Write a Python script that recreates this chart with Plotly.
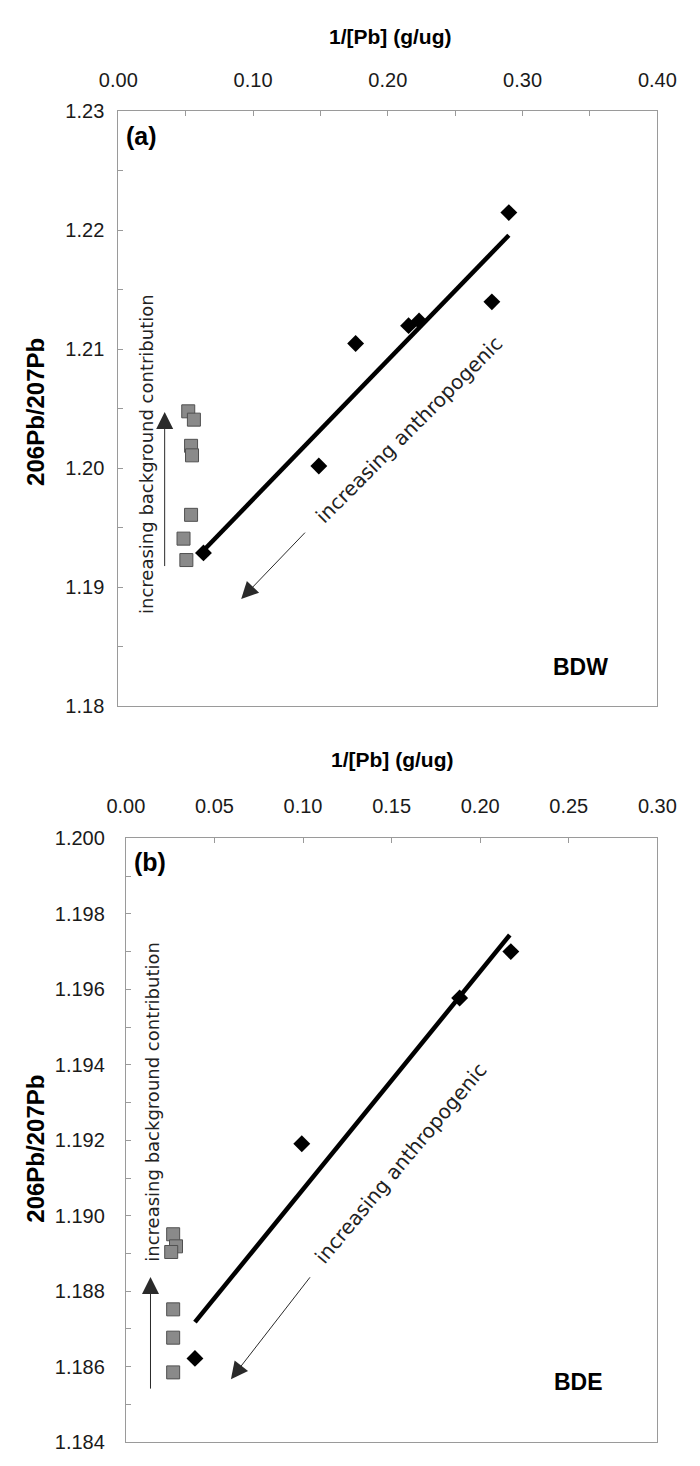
import plotly.graph_objects as go

# ---- Panel (a) BDW ----
bdw_x = [0.0632, 0.1488, 0.1761, 0.2154, 0.2232, 0.2772, 0.2898]
bdw_y = [1.1929, 1.2002, 1.2105, 1.2120, 1.2124, 1.2140, 1.2215]
bdw_bg_x = [0.0519, 0.0561, 0.0540, 0.0547, 0.0540, 0.0484, 0.0505]
bdw_bg_y = [1.2048, 1.2041, 1.2019, 1.2011, 1.1961, 1.1941, 1.1923]
bdw_fit_x = [0.0632, 0.2898]
bdw_fit_y = [1.1931, 1.2196]

# ---- Panel (b) BDE ----
bde_x = [0.0390, 0.0993, 0.1884, 0.2173]
bde_y = [1.18622, 1.19191, 1.19577, 1.19700]
bde_bg_x = [0.0267, 0.0283, 0.0256, 0.0267, 0.0267, 0.0267]
bde_bg_y = [1.18951, 1.18919, 1.18904, 1.18752, 1.18677, 1.18585]
bde_fit_x = [0.0390, 0.2167]
bde_fit_y = [1.18718, 1.19744]

W, H = 700, 1466
def px(xp): return xp / W
def py(yp): return 1 - yp / H

fig = go.Figure()

sq = dict(symbol="square", size=13, color="#8a8a8a", line=dict(color="#505050", width=1))
dm = dict(symbol="diamond", size=13, color="black")

fig.add_trace(go.Scatter(x=bdw_fit_x, y=bdw_fit_y, mode="lines", line=dict(color="black", width=4.5),
                         xaxis="x", yaxis="y", showlegend=False))
fig.add_trace(go.Scatter(x=bdw_x, y=bdw_y, mode="markers", marker=dm, xaxis="x", yaxis="y", showlegend=False))
fig.add_trace(go.Scatter(x=bdw_bg_x, y=bdw_bg_y, mode="markers", marker=sq, xaxis="x", yaxis="y", showlegend=False))

fig.add_trace(go.Scatter(x=bde_fit_x, y=bde_fit_y, mode="lines", line=dict(color="black", width=4.5),
                         xaxis="x2", yaxis="y2", showlegend=False))
fig.add_trace(go.Scatter(x=bde_x, y=bde_y, mode="markers", marker=dm, xaxis="x2", yaxis="y2", showlegend=False))
fig.add_trace(go.Scatter(x=bde_bg_x, y=bde_bg_y, mode="markers", marker=sq, xaxis="x2", yaxis="y2", showlegend=False))

tickfont = dict(family="Liberation Sans, Arial", size=20, color="#1a1a1a")
axline = dict(showline=True, linecolor="#9a9a9a", linewidth=1, mirror=True, showgrid=False,
              zeroline=False, ticks="inside", ticklen=5, tickcolor="#9a9a9a", tickfont=tickfont)

fig.update_layout(
    width=W, height=H, margin=dict(l=0, r=0, t=0, b=0),
    paper_bgcolor="white", plot_bgcolor="white",
    xaxis=dict(domain=[px(105), px(675)], range=[0, 0.40], side="top", anchor="y",
               tickvals=[0, 0.1, 0.2, 0.3, 0.4], tickformat=".2f",
               minor=dict(dtick=0.05, ticks="inside", ticklen=5, tickcolor="#9a9a9a"),
               ticklabelstandoff=15, **axline),
    yaxis=dict(domain=[py(706), py(102)], range=[1.18, 1.23], anchor="x",
               dtick=0.01, tickformat=".2f",
               minor=dict(dtick=0.005, ticks="inside", ticklen=5, tickcolor="#9a9a9a"),
               ticklabelstandoff=9, **axline),
    xaxis2=dict(domain=[px(113), px(675)], range=[0, 0.30], side="top", anchor="y2",
                dtick=0.05, tickformat=".2f", ticklabelstandoff=16, **axline),
    yaxis2=dict(domain=[py(1453), py(840)], range=[1.184, 1.200], anchor="x2",
                dtick=0.002, tickformat=".3f",
                minor=dict(dtick=0.001, ticks="inside", ticklen=5, tickcolor="#9a9a9a"),
                ticklabelstandoff=16, **axline),
)

bold = dict(family="Liberation Sans, Arial", size=21, color="black")
ybold = dict(family="Liberation Sans, Arial", size=24, color="black")
ann = []
# axis titles
ann.append(dict(text="<b>1/[Pb] (g/ug)</b>", x=px(392), y=py(26), xref="paper", yref="paper",
                showarrow=False, font=bold, xanchor="center", yanchor="middle"))
ann.append(dict(text="<b>1/[Pb] (g/ug)</b>", x=px(394), y=py(760), xref="paper", yref="paper",
                showarrow=False, font=bold, xanchor="center", yanchor="middle"))
ann.append(dict(text="<b>206Pb/207Pb</b>", x=px(18), y=py(407), xref="paper", yref="paper",
                showarrow=False, font=ybold, textangle=-90, xanchor="center", yanchor="middle"))
ann.append(dict(text="<b>206Pb/207Pb</b>", x=px(18), y=py(1155), xref="paper", yref="paper",
                showarrow=False, font=ybold, textangle=-90, xanchor="center", yanchor="middle"))
# panel labels
plab = dict(family="Liberation Sans, Arial", size=25, color="black")
ann.append(dict(text="<b>(a)</b>", x=px(130), y=py(127), xref="paper", yref="paper",
                showarrow=False, font=plab, xanchor="center", yanchor="middle"))
ann.append(dict(text="<b>(b)</b>", x=px(138), y=py(864), xref="paper", yref="paper",
                showarrow=False, font=plab, xanchor="center", yanchor="middle"))
site = dict(family="Liberation Sans, Arial", size=23, color="black")
ann.append(dict(text="<b>BDW</b>", x=px(594), y=py(666), xref="paper", yref="paper",
                showarrow=False, font=site, xanchor="center", yanchor="middle"))
ann.append(dict(text="<b>BDE</b>", x=px(592), y=py(1392), xref="paper", yref="paper",
                showarrow=False, font=site, xanchor="center", yanchor="middle"))

# annotation texts
tfont_bg = dict(family="DejaVu Sans", size=18, color="#222")
tfont_an = dict(family="DejaVu Sans", size=20, color="#222")
ann.append(dict(text="increasing background contribution", x=0.0204, y=1.2012, xref="x", yref="y",
                showarrow=False, font=tfont_bg, textangle=-90))
ann.append(dict(text="increasing anthropogenic", x=0.2154, y=1.20326, xref="x", yref="y",
                showarrow=False, font=tfont_an, textangle=-45))
ann.append(dict(text="increasing background contribution", x=0.0149, y=1.19303, xref="x2", yref="y2",
                showarrow=False, font=tfont_bg, textangle=-90))
ann.append(dict(text="increasing anthropogenic", x=0.1553, y=1.19139, xref="x2", yref="y2",
                showarrow=False, font=tfont_an, textangle=-50))

# arrows
arr = dict(showarrow=True, arrowhead=2, arrowsize=3.4, arrowwidth=1, arrowcolor="#2a2a2a", text="")
ann.append(dict(x=0.0344, y=1.20475, ax=0.0344, ay=1.19167, xref="x", yref="y", axref="x", ayref="y", **arr))
ann.append(dict(x=0.0912, y=1.18902, ax=0.1396, ay=1.19473, xref="x", yref="y", axref="x", ayref="y", **arr))
ann.append(dict(x=0.0139, y=1.18838, ax=0.0139, ay=1.18538, xref="x2", yref="y2", axref="x2", ayref="y2", **arr))
ann.append(dict(x=0.0593, y=1.18567, ax=0.1046, ay=1.18841, xref="x2", yref="y2", axref="x2", ayref="y2", **arr))

fig.update_layout(annotations=ann)
fig.write_html("out.html")
